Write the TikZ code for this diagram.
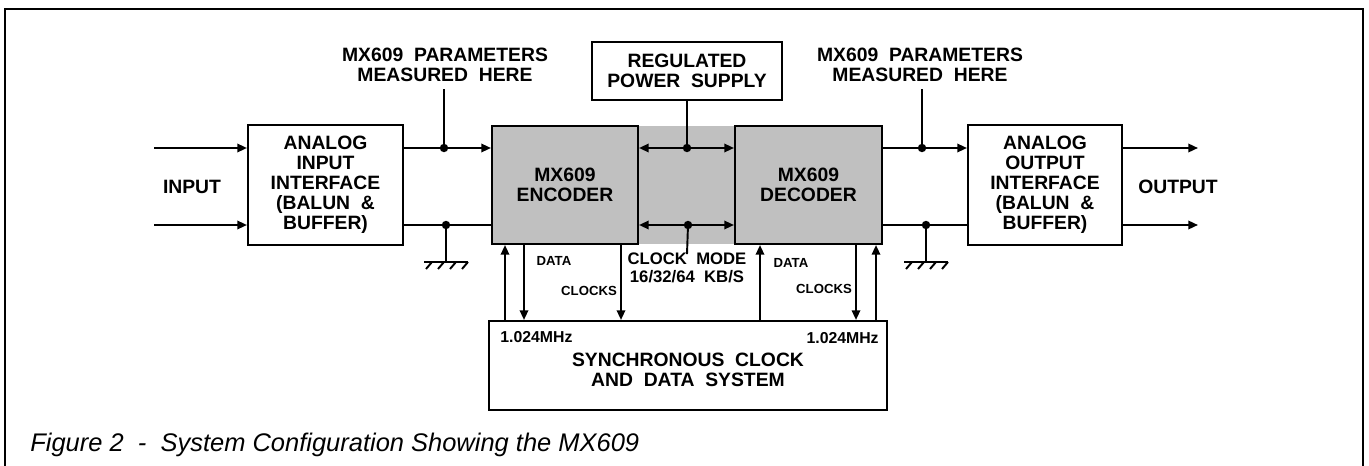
\documentclass[tikz,border=0pt]{standalone}
\usepackage{fontspec}
\setmainfont{Liberation Sans}
\usetikzlibrary{arrows.meta}
\definecolor{ChipClr}{rgb}{0.753,0.753,0.753}

\tikzset{
  blk/.style={draw,line width=1.2pt,inner sep=0pt,align=center,font=\bfseries\fontsize{11}{11.4}\selectfont},
  chip/.style={blk,fill=ChipClr},
  wire/.style={line width=1.1pt},
  sig/.style={wire,-{Triangle[length=5.5pt,width=4.8pt]}},
  dsig/.style={wire,{Triangle[length=5.5pt,width=4.8pt]}-{Triangle[length=5.5pt,width=4.8pt]}},
  lbl/.style={align=center,inner sep=0pt,font=\bfseries\fontsize{11}{11.4}\selectfont},
  small/.style={inner sep=0pt,font=\bfseries\fontsize{7.5}{9}\selectfont},
  mhz/.style={inner sep=0pt,font=\bfseries\fontsize{9}{10}\selectfont},
  gnd/.pic={
    \draw[wire] (-22,0) -- (22,0);
    \foreach \hx in {-14,-2,10,22} \draw[wire] (\hx,0) -- ++(-6,7);
  }
}

\begin{document}
\begin{tikzpicture}[x=0.02cm,y=-0.02cm]
\useasboundingbox (0,0) rectangle (1369,466);
\draw[line width=1.6pt] (5,466) -- (5,9) -- (1363,9) -- (1363,466);

\fill[ChipClr] (492,126) rectangle (882,244);

\node[blk,minimum width=3.1cm,minimum height=2.4cm] (ibox) at (325.5,185) {ANALOG\\INPUT\\INTERFACE\\(BALUN~~\&\\BUFFER)};
\node[chip,minimum width=2.92cm,minimum height=2.36cm] (enc) at (565,185) {MX609\\ENCODER};
\node[chip,minimum width=2.94cm,minimum height=2.36cm] (dec) at (808.5,185) {MX609\\DECODER};
\node[blk,minimum width=3.08cm,minimum height=2.4cm] (obox) at (1045,185) {ANALOG\\OUTPUT\\INTERFACE\\(BALUN~~\&\\BUFFER)};
\node[blk,minimum width=3.8cm,minimum height=1.16cm] (psu) at (687,71) {REGULATED\\POWER~~SUPPLY};
\node[blk,minimum width=7.96cm,minimum height=1.78cm] (sync) at (688,365.5) {};
\node[lbl] (syncTxt) at (688,370) {SYNCHRONOUS~~CLOCK\\AND~~DATA~~SYSTEM};

\node[lbl] (inlbl) at (192,187) {INPUT};
\node[lbl] (outlbl) at (1178,187) {OUTPUT};
\node[lbl] (parL) at (445,65) {MX609~~PARAMETERS\\MEASURED~~HERE};
\node[lbl] (parR) at (920,65) {MX609~~PARAMETERS\\MEASURED~~HERE};
\node[lbl,font=\bfseries\fontsize{9.5}{10.5}\selectfont] (mode) at (687,268) {CLOCK~~MODE\\16/32/64~~KB/S};
\node[small] (dataE) at (554,261) {DATA};
\node[small] (clkE) at (589,291) {CLOCKS};
\node[small] (dataD) at (791,263) {DATA};
\node[small] (clkD) at (824,289) {CLOCKS};
\node[mhz,anchor=west] (mhzL) at (500,337) {1.024MHz};
\node[mhz,anchor=east] (mhzR) at (879,338) {1.024MHz};
\node[anchor=west,inner sep=0pt,font=\itshape\fontsize{14.5}{16}\selectfont] (cap) at (30,445) {Figure 2~~-~~System Configuration Showing the MX609};

\coordinate (inT) at (154,148);
\coordinate (inB) at (154,225);
\coordinate (outT) at (1198,148);
\coordinate (outB) at (1198,225);
\coordinate (mL) at (444,148);
\coordinate (gL) at (446,225);
\coordinate (mR) at (922,148);
\coordinate (gR) at (926,225);
\coordinate (pwr) at (687,148);
\coordinate (clk) at (688,225);
\coordinate (e1) at (505,0);
\coordinate (e2) at (524,0);
\coordinate (e3) at (621,0);
\coordinate (d1) at (760,0);
\coordinate (d2) at (856,0);
\coordinate (d3) at (876,0);

\draw[sig] (inT) -- (inT -| ibox.west);
\draw[sig] (inB) -- (inB -| ibox.west);
\draw[sig] (mL -| ibox.east) -- (mL -| enc.west);
\draw[wire] (gL -| ibox.east) -- (gL -| enc.west);
\draw[sig] (mR -| dec.east) -- (mR -| obox.west);
\draw[wire] (gR -| dec.east) -- (gR -| obox.west);
\draw[sig] (outT -| obox.east) -- (outT);
\draw[sig] (outB -| obox.east) -- (outB);
\draw[dsig] (pwr -| enc.east) -- (pwr -| dec.west);
\draw[dsig] (clk -| enc.east) -- (clk -| dec.west);

\draw[wire] (psu.south) -- (pwr);
\draw[wire] (clk) -- ([yshift=-1pt]mode.north);
\draw[wire] (mL) -- ([yshift=-4pt]mL |- parL.south);
\draw[wire] (mR) -- ([yshift=-4pt]mR |- parR.south);
\draw[wire] (gL) -- ++(0,37) pic {gnd};
\draw[wire] (gR) -- ++(0,37) pic {gnd};
\foreach \jn in {mL,gL,mR,gR,pwr,clk} \fill (\jn) circle[radius=2.4pt];

\draw[sig] (e1 |- sync.north) -- (e1 |- enc.south);
\draw[sig] (e2 |- enc.south) -- (e2 |- sync.north);
\draw[sig] (e3 |- enc.south) -- (e3 |- sync.north);
\draw[sig] (d1 |- sync.north) -- (d1 |- dec.south);
\draw[sig] (d2 |- dec.south) -- (d2 |- sync.north);
\draw[sig] (d3 |- sync.north) -- (d3 |- dec.south);
\end{tikzpicture}
\end{document}
